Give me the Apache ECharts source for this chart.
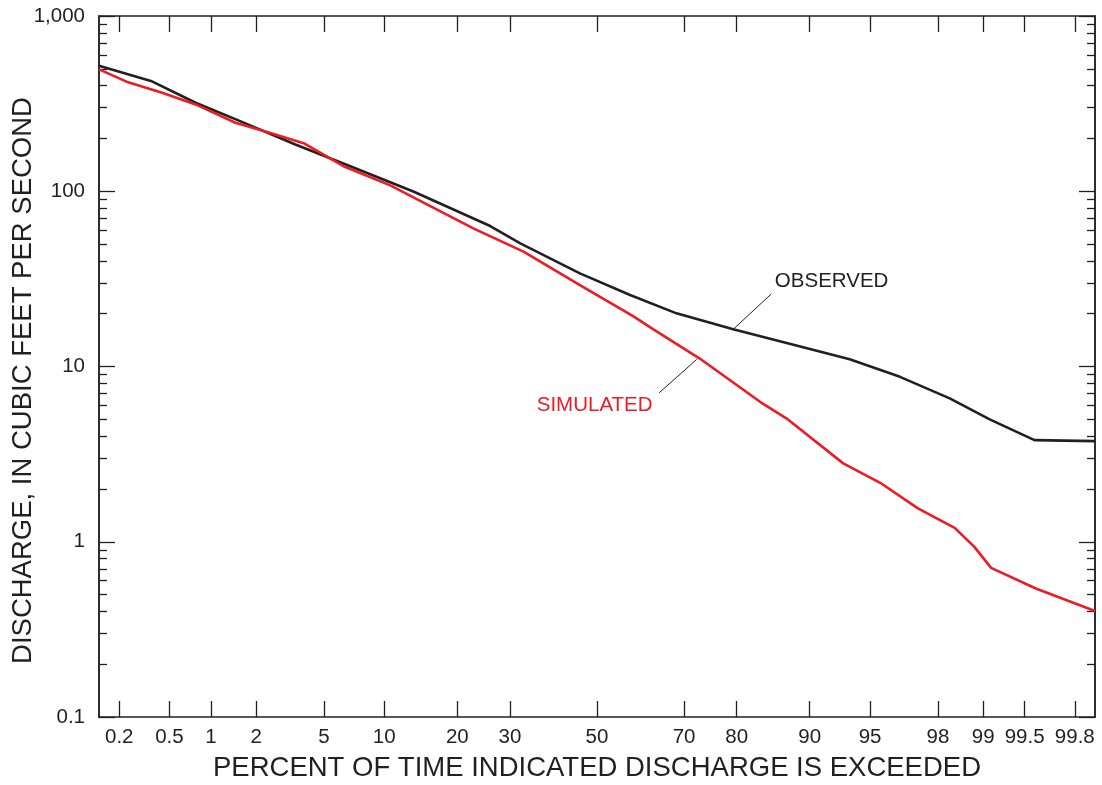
<!DOCTYPE html>
<html><head><meta charset="utf-8">
<script src="https://cdn.jsdelivr.net/npm/echarts@6/dist/echarts.min.js"></script>
<style>html,body{margin:0;padding:0;background:#fff}#c{width:1102px;height:785px}</style>
</head><body><div id="c"></div>
<script>
// ---- data ----
const percentTicks = [0.2, 0.5, 1, 2, 5, 10, 20, 30, 50, 70, 80, 90, 95, 98, 99, 99.5, 99.8];
const percentTickLabels = ['0.2', '0.5', '1', '2', '5', '10', '20', '30', '50', '70', '80', '90', '95', '98', '99', '99.5', '99.8'];
const dischargeMajorTicks = [0.1, 1, 10, 100, 1000];
const dischargeTickLabels = ['0.1', '1', '10', '100', '1,000'];
const dischargeMinorTicks = [0.2, 0.3, 0.4, 0.5, 0.6, 0.7, 0.8, 0.9, 2, 3, 4, 5, 6, 7, 8, 9, 20, 30, 40, 50, 60, 70, 80, 90, 200, 300, 400, 500, 600, 700, 800, 900];

const observedPercent = [0.135, 0.36, 0.78, 1.55, 3.46, 6.86, 13.5, 26, 32.2, 45.9, 57.9, 68.4, 79.4, 87.7, 93.6, 96.6, 98.32, 99.10, 99.58, 99.865];
const observedDischarge = [520, 426, 320, 253, 185, 139, 99.4, 63.3, 50.4, 34.0, 25.6, 20.1, 16.3, 13.5, 11.0, 8.73, 6.58, 4.99, 3.80, 3.75];
const simulatedPercent = [0.135, 0.23, 0.44, 0.78, 1.47, 2.29, 3.86, 6.34, 10.65, 22.8, 32.9, 45.9, 58.6, 63.3, 73.2, 83.7, 87.3, 93.1, 95.6, 97.34, 98.44, 98.85, 99.12, 99.59, 99.865];
const simulatedDischarge = [496, 422, 365, 313, 246, 219, 188, 139, 108, 61.4, 45.2, 29.1, 19.4, 16.3, 11.1, 6.29, 5.06, 2.80, 2.17, 1.55, 1.20, 0.935, 0.71, 0.541, 0.403];

const observedLeader = [[79.4, 16.3], [85.3, 25.9]];
const observedLabelAt = [85.8, 30.7];
const simulatedLeader = [[72.6, 10.98], [64.6, 7.08]];
const simulatedLabelAt = [63.1, 6.02];

// ---- normal-probability scale transform ----
function probit(p) {
  const a = [-39.69683028665376, 220.9460984245205, -275.9285104469687, 138.3577518672690, -30.66479806614716, 2.506628274631000];
  const b = [-54.47609879822406, 161.5858368580409, -155.6989798598866, 66.80131188771972, -13.28068155288572];
  const c = [-0.007784894002430293, -0.3223964580411365, -2.400758277161838, -2.549732539343734, 4.374664141464968, 2.938163982698783];
  const d = [0.007784695709041462, 0.3224671290700398, 2.445134137142996, 3.754408661907416];
  const pl = 0.02425, ph = 1 - pl;
  let q, r;
  if (p < pl) {
    q = Math.sqrt(-2 * Math.log(p));
    return (((((c[0]*q+c[1])*q+c[2])*q+c[3])*q+c[4])*q+c[5]) / ((((d[0]*q+d[1])*q+d[2])*q+d[3])*q+1);
  }
  if (p <= ph) {
    q = p - 0.5; r = q * q;
    return (((((a[0]*r+a[1])*r+a[2])*r+a[3])*r+a[4])*r+a[5])*q / (((((b[0]*r+b[1])*r+b[2])*r+b[3])*r+b[4])*r+1);
  }
  q = Math.sqrt(-2 * Math.log(1 - p));
  return -(((((c[0]*q+c[1])*q+c[2])*q+c[3])*q+c[4])*q+c[5]) / ((((d[0]*q+d[1])*q+d[2])*q+d[3])*q+1);
}
const pz = p => probit(p / 100);
const zTicks = percentTicks.map(pz);
const pt = a => [pz(a[0]), a[1]];

const FONT = '"Liberation Sans", Arial, Helvetica, sans-serif';
const INK = '#231f20';
const RED = '#ed1c24';
const LABEL_SIZE = 20.5;
const TITLE_SIZE = 27.5;

function xLabel(v) {
  for (let i = 0; i < zTicks.length; i++) if (Math.abs(zTicks[i] - v) < 1e-6) return percentTickLabels[i];
  return '';
}
function yLabel(v) {
  for (let i = 0; i < dischargeMajorTicks.length; i++) if (Math.abs(Math.log10(dischargeMajorTicks[i]) - Math.log10(v)) < 1e-6) return dischargeTickLabels[i];
  return '';
}

const axisLine = { show: true, onZero: false, lineStyle: { color: INK, width: 1.5 } };
function yAxisDef(pos, major, withLabels) {
  return {
    type: 'log', logBase: 10, min: 0.1, max: 1000, position: pos,
    axisLine: axisLine,
    splitLine: { show: false }, minorTick: { show: false }, minorSplitLine: { show: false },
    axisTick: { show: true, inside: true, length: major ? 16 : 8, customValues: major ? dischargeMajorTicks : dischargeMinorTicks, lineStyle: { color: INK, width: 1.3 } },
    axisLabel: withLabels ? { show: true, customValues: dischargeMajorTicks, formatter: yLabel, fontSize: LABEL_SIZE, fontFamily: FONT, color: INK, margin: 14 } : { show: false },
    name: withLabels ? 'DISCHARGE, IN CUBIC FEET PER SECOND' : '',
    nameLocation: 'middle', nameRotate: 90, nameGap: 62, nameMoveOverlap: false,
    nameTextStyle: { fontSize: TITLE_SIZE, fontFamily: FONT, color: INK, padding: [0, 28, 0, 0] }
  };
}

const chart = echarts.init(document.getElementById('c'), null, { renderer: 'canvas' });
chart.setOption({
  animation: false,
  backgroundColor: '#fff',
  grid: { left: 99, right: 7, top: 16, bottom: 68, containLabel: false, outerBoundsMode: 'none' },
  xAxis: [
    {
      type: 'value', min: -3, max: 3, position: 'bottom',
      axisLine: axisLine, splitLine: { show: false },
      axisTick: { show: true, inside: true, length: 16, customValues: zTicks, lineStyle: { color: INK, width: 1.3 } },
      axisLabel: { show: true, customValues: zTicks, formatter: xLabel, fontSize: LABEL_SIZE, fontFamily: FONT, color: INK, margin: 10 },
      name: 'PERCENT OF TIME INDICATED DISCHARGE IS EXCEEDED', nameLocation: 'middle', nameGap: 37, nameMoveOverlap: false,
      nameTextStyle: { fontSize: TITLE_SIZE, fontFamily: FONT, color: INK }
    },
    {
      type: 'value', min: -3, max: 3, position: 'top',
      axisLine: axisLine, splitLine: { show: false },
      axisTick: { show: true, inside: true, length: 16, customValues: zTicks, lineStyle: { color: INK, width: 1.3 } },
      axisLabel: { show: false }
    }
  ],
  yAxis: [
    yAxisDef('left', true, true),
    yAxisDef('left', false, false),
    yAxisDef('right', true, false),
    yAxisDef('right', false, false)
  ],
  series: [
    {
      name: 'OBSERVED', type: 'line', xAxisIndex: 0, yAxisIndex: 0, symbol: 'none',
      lineStyle: { color: INK, width: 2.6 }, itemStyle: { color: INK },
      data: observedPercent.map((p, i) => [pz(p), observedDischarge[i]]),
      markLine: {
        silent: true, symbol: ['none', 'none'], label: { show: false },
        lineStyle: { color: INK, width: 1, type: 'solid' },
        data: [[{ coord: pt(observedLeader[0]) }, { coord: pt(observedLeader[1]) }]]
      },
      markPoint: {
        silent: true, symbol: 'circle', symbolSize: 0,
        label: { show: true, position: 'right', distance: 0, formatter: 'OBSERVED', fontSize: LABEL_SIZE, fontFamily: FONT, color: INK },
        data: [{ coord: pt(observedLabelAt) }]
      }
    },
    {
      name: 'SIMULATED', type: 'line', xAxisIndex: 0, yAxisIndex: 0, symbol: 'none',
      lineStyle: { color: RED, width: 2.6 }, itemStyle: { color: RED },
      data: simulatedPercent.map((p, i) => [pz(p), simulatedDischarge[i]]),
      markLine: {
        silent: true, symbol: ['none', 'none'], label: { show: false },
        lineStyle: { color: INK, width: 1, type: 'solid' },
        data: [[{ coord: pt(simulatedLeader[0]) }, { coord: pt(simulatedLeader[1]) }]]
      },
      markPoint: {
        silent: true, symbol: 'circle', symbolSize: 0,
        label: { show: true, position: 'left', distance: 0, formatter: 'SIMULATED', fontSize: LABEL_SIZE, fontFamily: FONT, color: RED },
        data: [{ coord: pt(simulatedLabelAt) }]
      }
    }
  ]
});
</script>
</body></html>
